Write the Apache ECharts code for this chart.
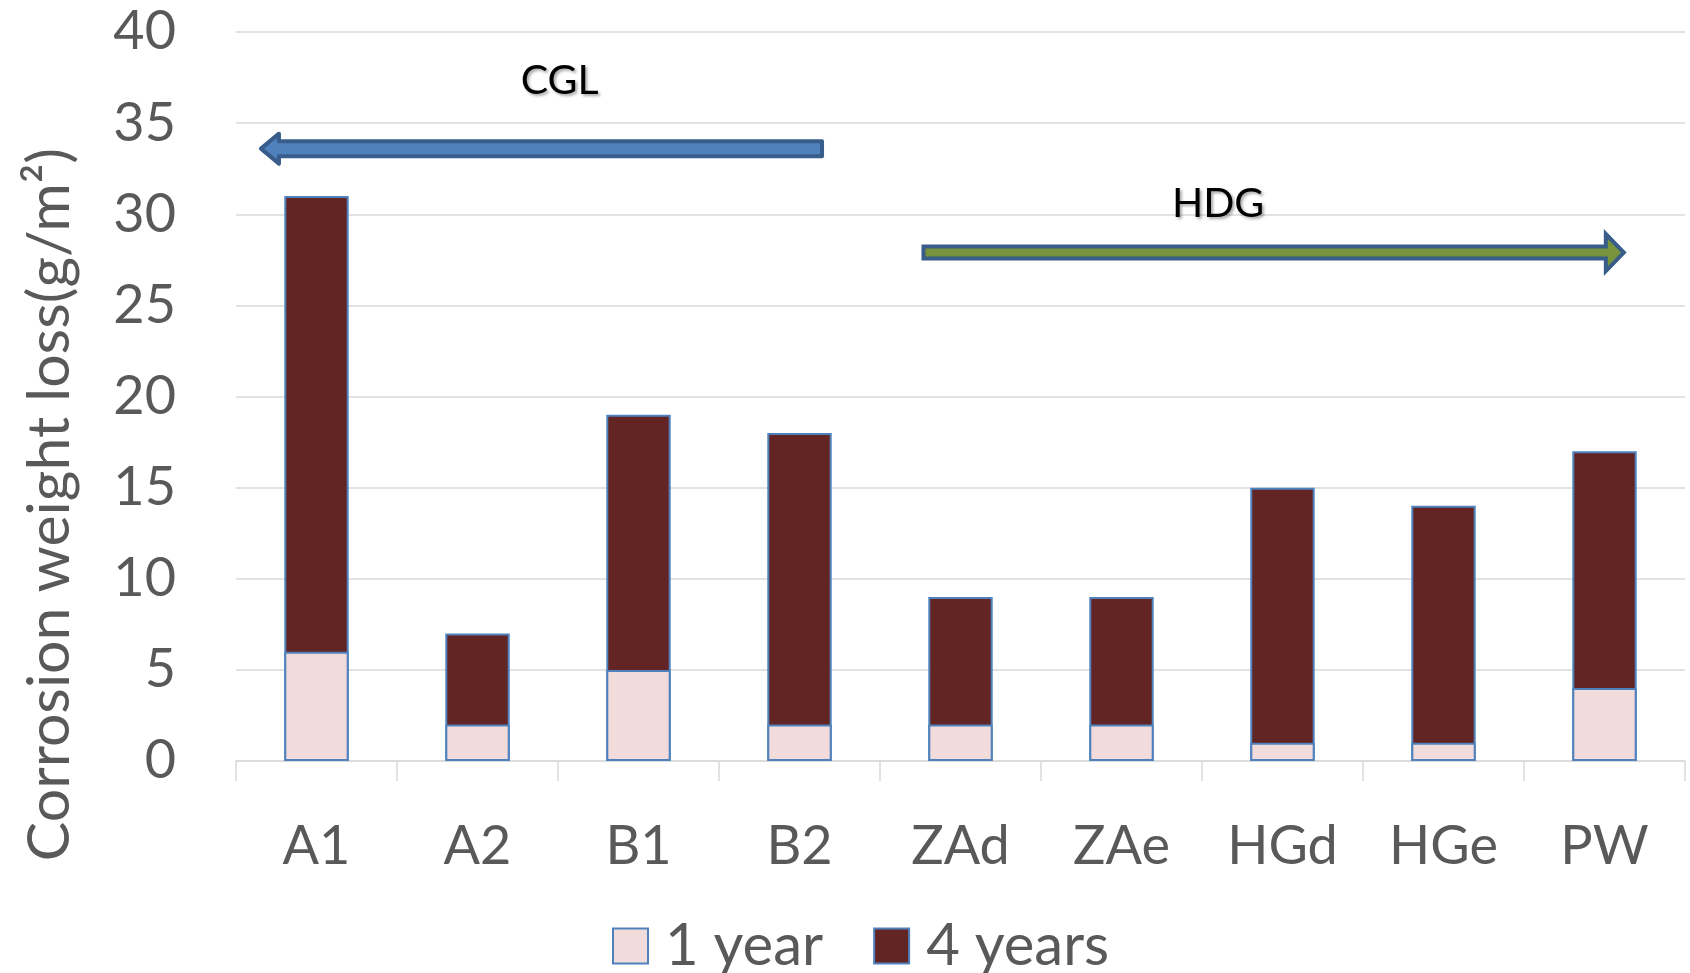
<!DOCTYPE html>
<html><head><meta charset="utf-8">
<script src="https://cdn.jsdelivr.net/npm/echarts@6/dist/echarts.min.js"></script>
<style>html,body{margin:0;padding:0;background:#fff}#c{width:1690px;height:973px}</style>
</head><body><div id="c"></div>
<script>
const categories = ['A1','A2','B1','B2','ZAd','ZAe','HGd','HGe','PW'];
const oneYear = [6, 2, 5, 2, 2, 2, 1, 1, 4];
const fourYears = [31, 7, 19, 18, 9, 9, 15, 14, 17];
const yTicks = {min: 0, max: 40, interval: 5};
const seriesNames = ['1 year', '4 years'];
const yTitle = 'Corrosion weight loss(g/m\u00B2)';
// annotation arrows (category index / value units)
const cglArrow = {text: 'CGL', from: 3.14, to: -0.345, value: 33.6, textAt: [1.51, 37.3]};
const hdgArrow = {text: 'HDG', from: 3.77, to: 8.12, value: 27.9, textAt: [5.6, 30.6]};

const txt = '#595959';
const chart = echarts.init(document.getElementById('c'), null, {renderer: 'canvas'});
chart.setOption({
  animation: false,
  textStyle: {fontFamily: 'Lato'},
  grid: {left: 236, right: 5, top: 32, bottom: 212, containLabel: false},
  legend: {
    data: seriesNames, left: 607, top: 910, itemWidth: 35, itemHeight: 35, itemGap: 50,
    icon: 'rect',
    textStyle: {fontSize: 58, color: txt, fontFamily: 'Lato', padding: [0, 0, 0, 12], lineHeight: 62}
  },
  xAxis: {
    type: 'category', data: categories,
    axisLine: {lineStyle: {color: '#D9D9D9', width: 1.5}},
    axisTick: {show: true, length: 20, lineStyle: {color: '#D9D9D9', width: 1.5}},
    axisLabel: {fontSize: 54, color: txt, margin: 59, fontFamily: 'Lato'}
  },
  yAxis: {
    type: 'value', min: yTicks.min, max: yTicks.max, interval: yTicks.interval,
    name: yTitle, nameLocation: 'middle', nameGap: 157,
    nameTextStyle: {fontSize: 59, color: txt, fontFamily: 'Lato', padding: [0, 216, 0, 0]},
    axisLine: {show: false}, axisTick: {show: false},
    splitLine: {lineStyle: {color: '#D9D9D9', width: 1.5}},
    axisLabel: {fontSize: 54, color: txt, margin: 60, fontFamily: 'Lato'}
  },
  series: [
    {name: '4 years', type: 'bar', data: fourYears, barWidth: '40%', barGap: '-100%',
     itemStyle: {color: '#632523', borderColor: '#4F81BD', borderWidth: 2}},
    {name: '1 year', type: 'bar', data: oneYear, barWidth: '40%', barGap: '-100%',
     itemStyle: {color: '#F2DCDB', borderColor: '#4F81BD', borderWidth: 2}}
  ]
});

function px(idx, val) {
  const p0 = chart.convertToPixel({xAxisIndex: 0}, 0);
  const p1 = chart.convertToPixel({xAxisIndex: 0}, 1);
  const y = chart.convertToPixel({yAxisIndex: 0}, val);
  return [p0 + (p1 - p0) * idx, y];
}
function arrowPoints(a, shaftHalf, headHalf, headLen) {
  const [x0, yc] = px(a.from, a.value);
  const [x1] = px(a.to, a.value);
  const dir = x1 > x0 ? 1 : -1;
  const hb = x1 - dir * headLen;
  return [[x0, yc - shaftHalf], [hb, yc - shaftHalf], [hb, yc - headHalf], [x1, yc],
          [hb, yc + headHalf], [hb, yc + shaftHalf], [x0, yc + shaftHalf]];
}
function label(a) {
  const [x, y] = px(a.textAt[0], a.textAt[1]);
  return {type: 'text', x: x, y: y, z: 10,
    style: {text: a.text, fontSize: 41, fontFamily: 'Lato', fill: '#000', align: 'center', verticalAlign: 'middle',
      textShadowColor: 'rgba(0,0,0,0.35)', textShadowBlur: 3, textShadowOffsetX: 2, textShadowOffsetY: 2}};
}
chart.setOption({
  graphic: [
    {type: 'polygon', z: 10, shape: {points: arrowPoints(cglArrow, 7.5, 15, 18)},
     style: {fill: '#4F81BD', stroke: '#385D8A', lineWidth: 4, lineJoin: 'round'}},
    {type: 'polygon', z: 10, shape: {points: arrowPoints(hdgArrow, 6, 18.5, 18)},
     style: {fill: '#77933C', stroke: '#385D8A', lineWidth: 4, lineJoin: 'miter'}},
    label(cglArrow), label(hdgArrow)
  ]
});
</script></body></html>
